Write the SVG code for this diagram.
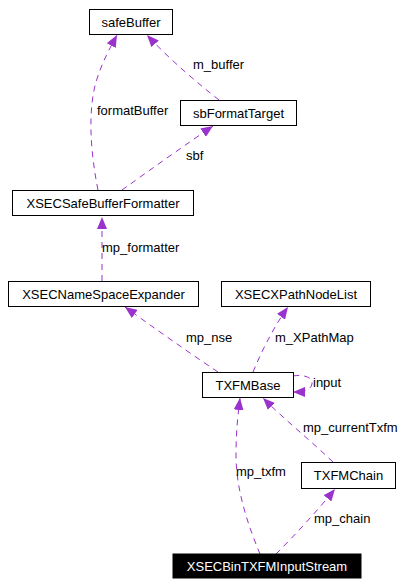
<svg xmlns="http://www.w3.org/2000/svg" width="414" height="586" viewBox="0 0 414 586">
<style>
.node rect{fill:#ffffff;stroke:#000000;stroke-width:1}
.node text{font-family:"Liberation Sans",Arial,sans-serif;font-size:13px;fill:#000000;text-anchor:middle}
#n_XSECBinTXFMInputStream rect{fill:#000000}
#n_XSECBinTXFMInputStream text{fill:#ffffff}
.edge path{fill:none;stroke:#9a32cd;stroke-width:1;stroke-dasharray:6,5}
.lbl{font-family:"Liberation Sans",Arial,sans-serif;font-size:13px;fill:#000000}
</style>
<defs>
<marker id="arr" markerUnits="userSpaceOnUse" markerWidth="13" markerHeight="10" refX="12" refY="5" orient="auto">
<path d="M0,0 L12,5 L0,10 z" fill="#9a32cd" stroke="none"/>
</marker>
</defs>
<rect width="414" height="586" fill="#ffffff"/>
<g id="connectors">
<g class="edge" id="e_formatBuffer"><path d="M98,190 C90,150 88,110 96,82 C102,62 110,48 117,35" marker-end="url(#arr)"/><text class="lbl" x="97" y="115">formatBuffer</text></g>
<g class="edge" id="e_m_buffer"><path d="M219,100 C200,85 170,60 147,35" marker-end="url(#arr)"/><text class="lbl" x="193" y="69">m_buffer</text></g>
<g class="edge" id="e_sbf"><path d="M122,190 C150,170 185,145 213,126" marker-end="url(#arr)"/><text class="lbl" x="186" y="160">sbf</text></g>
<g class="edge" id="e_mp_formatter"><path d="M102,281 L102,217" marker-end="url(#arr)"/><text class="lbl" x="102" y="252">mp_formatter</text></g>
<g class="edge" id="e_mp_nse"><path d="M218,372 C185,350 150,325 125,307" marker-end="url(#arr)"/><text class="lbl" x="186" y="342">mp_nse</text></g>
<g class="edge" id="e_m_XPathMap"><path d="M253,372 C262,350 275,325 288,307" marker-end="url(#arr)"/><text class="lbl" x="275" y="342">m_XPathMap</text></g>
<g class="edge" id="e_input"><path d="M293,376 C305,374 313,378 312,384 C311,390 303,392 293,392" marker-end="url(#arr)"/><text class="lbl" x="313" y="387">input</text></g>
<g class="edge" id="e_mp_currentTxfm"><path d="M333,462 C310,440 285,420 263,398" marker-end="url(#arr)"/><text class="lbl" x="303" y="432">mp_currentTxfm</text></g>
<g class="edge" id="e_mp_txfm"><path d="M260,554 C248,525 236,490 236,455 C236,430 238,415 240,398" marker-end="url(#arr)"/><text class="lbl" x="236" y="476">mp_txfm</text></g>
<g class="edge" id="e_mp_chain"><path d="M276,554 C295,535 318,510 335,489" marker-end="url(#arr)"/><text class="lbl" x="314" y="523">mp_chain</text></g>
</g>
<g class="node" id="n_safeBuffer"><rect x="89.5" y="9.5" width="83" height="25"/><text x="131" y="26.5">safeBuffer</text></g>
<g class="node" id="n_sbFormatTarget"><rect x="180.5" y="100.5" width="116" height="25"/><text x="238.5" y="117.5">sbFormatTarget</text></g>
<g class="node" id="n_XSECSafeBufferFormatter"><rect x="12.5" y="190.5" width="181" height="25"/><text x="103" y="207.5">XSECSafeBufferFormatter</text></g>
<g class="node" id="n_XSECNameSpaceExpander"><rect x="8.5" y="281.5" width="190" height="25"/><text x="103.5" y="298.5">XSECNameSpaceExpander</text></g>
<g class="node" id="n_XSECXPathNodeList"><rect x="221.5" y="281.5" width="149" height="25"/><text x="296" y="298.5">XSECXPathNodeList</text></g>
<g class="node" id="n_TXFMBase"><rect x="202.5" y="372.5" width="91" height="25"/><text x="248" y="389.5">TXFMBase</text></g>
<g class="node" id="n_TXFMChain"><rect x="301.5" y="462.5" width="94" height="26"/><text x="348.5" y="480">TXFMChain</text></g>
<g class="node" id="n_XSECBinTXFMInputStream"><rect x="173" y="554" width="188" height="24"/><text x="267" y="570.5">XSECBinTXFMInputStream</text></g>
</svg>
